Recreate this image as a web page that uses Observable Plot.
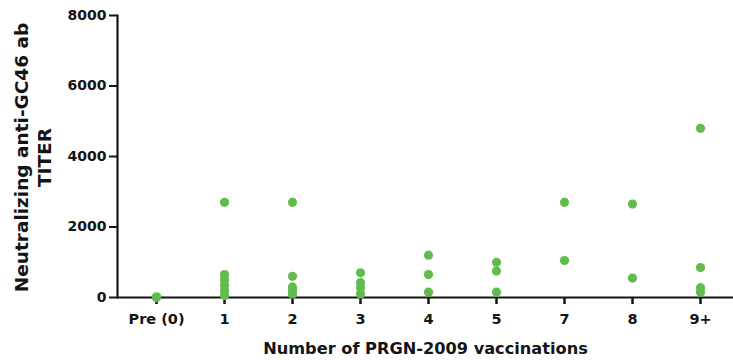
<!DOCTYPE html>
<html>
<head>
<meta charset="utf-8">
<script src="https://cdn.jsdelivr.net/npm/d3@7"></script>
<script src="https://cdn.jsdelivr.net/npm/@observablehq/plot@0.6"></script>
<style>
  body { margin: 0; background: #fff; }
  #chart svg { display: block; }
</style>
</head>
<body>
<div id="chart"></div>
<script>
const categories = ["Pre (0)", "1", "2", "3", "4", "5", "7", "8", "9+"];
const titerPre = [20, 0];
const titer1 = [2700, 650, 500, 350, 200, 60];
const titer2 = [2700, 600, 300, 200, 100];
const titer3 = [700, 420, 280, 100];
const titer4 = [1200, 650, 150];
const titer5 = [1000, 750, 150];
const titer7 = [2700, 1050];
const titer8 = [2650, 550];
const titer9 = [4800, 850, 280, 150];
const yTicks = [0, 2000, 4000, 6000, 8000];
const yLabel = "Neutralizing anti-GC46 ab\nTITER";
const xLabel = "Number of PRGN-2009 vaccinations";

const groups = [titerPre, titer1, titer2, titer3, titer4, titer5, titer7, titer8, titer9];
const data = groups.flatMap((vals, i) => vals.map(v => ({cat: categories[i], v})));

const ink = "#141414";
const plot = Plot.plot({
  width: 733,
  height: 360,
  marginLeft: 117,
  marginRight: 0,
  marginTop: 15,
  marginBottom: 63,
  style: {fontFamily: "DejaVu Sans", fontWeight: "bold", color: ink, background: "#fff"},
  x: {type: "point", domain: categories, range: [153, 702], padding: 0},
  y: {domain: [0, 8000]},
  marks: [
    Plot.ruleY([0], {stroke: ink, strokeWidth: 2.2}),
    Plot.frame({anchor: "left", stroke: ink, strokeWidth: 2.2}),
    Plot.axisY({ticks: yTicks, tickSize: 8, tickPadding: 3, fontSize: 14, label: null, strokeWidth: 2, tickFormat: d => String(d)}),
    Plot.axisX({tickSize: 7, tickPadding: 9, fontSize: 14.5, label: null, strokeWidth: 2.5}),
    Plot.dot(data, {x: "cat", y: "v", r: 4.6, fill: "#62bb4d", stroke: "none"}),
    Plot.text([yLabel], {frameAnchor: "left", textAnchor: "middle", rotate: -90, dx: -85, dy: 1, fontSize: 18.5, lineHeight: 1.25, fill: ink, lineAnchor: "middle"}),
    Plot.text([xLabel], {frameAnchor: "bottom", dy: 56, fontSize: 16.2, fill: ink})
  ]
});
document.getElementById("chart").appendChild(plot);
</script>
</body>
</html>
